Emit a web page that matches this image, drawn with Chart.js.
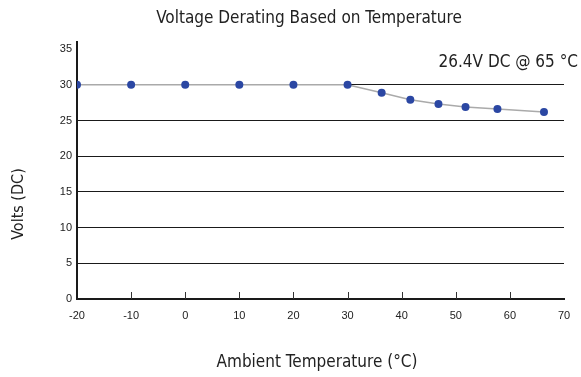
<!DOCTYPE html>
<html>
<head>
<meta charset="utf-8">
<script src="https://cdn.jsdelivr.net/npm/chart.js@4.4.1/dist/chart.umd.min.js"></script>
<style>
  html, body { margin: 0; padding: 0; background: #fff; }
  #wrap { width: 581px; height: 377px; position: relative; }
</style>
</head>
<body>
<div id="wrap"><canvas id="derating"></canvas></div>
<script>
/* ── Data ── */
const TEMPS = [-20, -10, 0, 10, 20, 30, 36.3, 41.6, 46.8, 51.8, 57.7, 66.3];
const VOLTS = [30, 30, 30, 30, 30, 30, 28.9, 27.9, 27.3, 26.9, 26.6, 26.2];
const X_TICKS = [-20, -10, 0, 10, 20, 30, 40, 50, 60, 70];
const Y_TICKS = [0, 5, 10, 15, 20, 25, 30, 35];

const TITLE = 'Voltage Derating Based on Temperature';
const X_TITLE = 'Ambient Temperature (°C)';
const Y_TITLE = 'Volts (DC)';
const NOTE = '26.4V DC @ 65 °C';

const COLORS = {
  point: '#2b47a3',
  line: '#aaaaaa',
  grid: '#1a1a1a',
  axis: '#1a1a1a',
  text: '#222222',
};
const NARROW = '"Liberation Sans Narrow", "DejaVu Sans Condensed", sans-serif';
const TICK_FONT = { family: '"Liberation Sans", Arial, sans-serif', size: 11 };

/* ── Titles, note and inner x ticks ── */
const decor = {
  id: 'decor',
  afterDraw(chart) {
    const { ctx, chartArea, scales } = chart;
    ctx.save();

    // small upward ticks on the x axis
    ctx.strokeStyle = '#333';
    ctx.lineWidth = 1;
    X_TICKS.slice(1, -1).forEach(v => {
      const x = Math.round(scales.x.getPixelForValue(v)) + 0.5;
      ctx.beginPath();
      ctx.moveTo(x, chartArea.bottom);
      ctx.lineTo(x, chartArea.bottom - 7);
      ctx.stroke();
    });

    ctx.fillStyle = COLORS.text;
    ctx.textAlign = 'center';
    ctx.textBaseline = 'middle';
    ctx.font = '17px ' + NARROW;
    ctx.fillText(TITLE, 309, 19);
    ctx.fillText(X_TITLE, 317, 363);

    ctx.textAlign = 'right';
    ctx.fillText(NOTE, 578, 63);

    ctx.font = '16px ' + NARROW;
    ctx.translate(19, 204);
    ctx.rotate(-Math.PI / 2);
    ctx.textAlign = 'center';
    ctx.fillText(Y_TITLE, 0, 0);
    ctx.restore();
  }
};

new Chart(document.getElementById('derating'), {
  type: 'scatter',
  data: {
    datasets: [{
      data: TEMPS.map((t, i) => ({ x: t, y: VOLTS[i] })),
      showLine: true,
      borderColor: COLORS.line,
      borderWidth: 1.5,
      pointBackgroundColor: COLORS.point,
      pointBorderColor: COLORS.point,
      pointRadius: 4,
      pointBorderWidth: 0,
    }]
  },
  options: {
    responsive: true,
    maintainAspectRatio: false,
    animation: false,
    layout: { padding: { top: 42, right: 17, left: 0, bottom: 0 } },
    plugins: {
      legend: { display: false },
      tooltip: { enabled: false },
    },
    scales: {
      x: {
        type: 'linear',
        min: -20,
        max: 70,
        afterBuildTicks: s => { s.ticks = X_TICKS.map(v => ({ value: v })); },
        afterFit: s => { s.height = 78; },
        grid: { drawOnChartArea: false, drawTicks: false, color: 'transparent' },
        border: { display: true, color: COLORS.axis, width: 2 },
        ticks: { color: COLORS.text, font: TICK_FONT, padding: 10, maxRotation: 0, autoSkip: false },
      },
      y: {
        type: 'linear',
        min: 0,
        max: 36,
        afterBuildTicks: s => { s.ticks = Y_TICKS.map(v => ({ value: v })); },
        afterFit: s => { s.width = 77; },
        grid: {
          drawTicks: false,
          color: c => (c.tick && (c.tick.value === 0 || c.tick.value === 35)) ? 'transparent' : COLORS.grid,
          lineWidth: 1,
        },
        border: { display: true, color: COLORS.axis, width: 2 },
        ticks: { color: COLORS.text, font: TICK_FONT, padding: 5 },
      }
    }
  },
  plugins: [decor]
});
</script>
</body>
</html>
